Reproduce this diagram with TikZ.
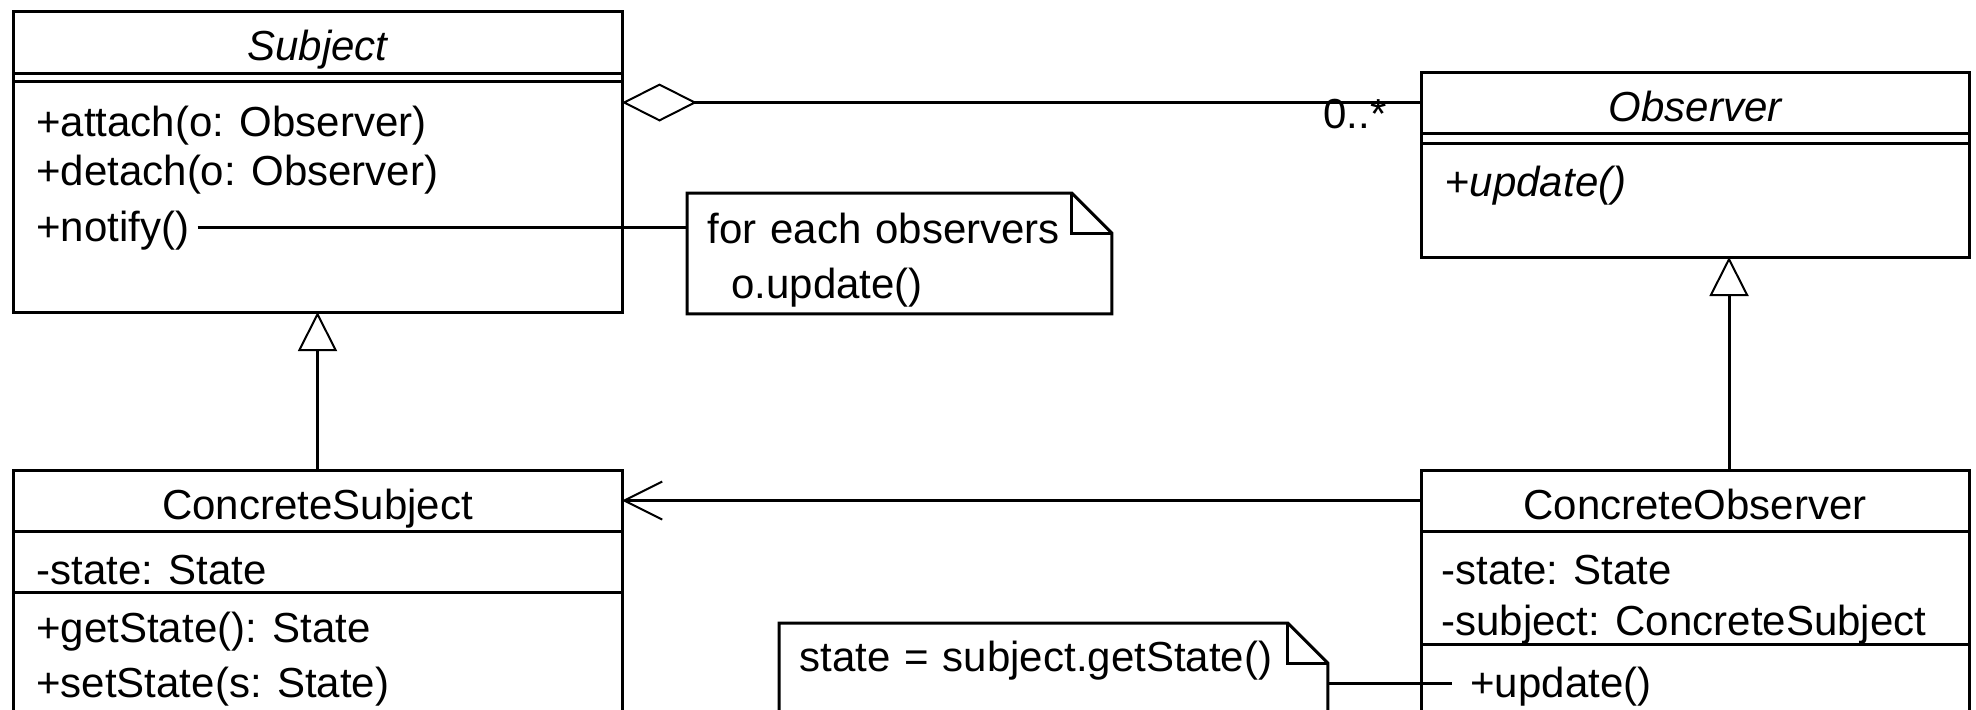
\documentclass[tikz,border=0pt]{standalone}
\usepackage{fontspec}
\setmainfont{Liberation Sans}
\usepackage{tikz}
\usetikzlibrary{positioning, arrows.meta}

% outline of a UML note with its folded corner
\newcommand{\dogear}[1]{%
  \draw[notebd] (#1.south west) -- (#1.north west)
    -- ([xshift=-20pt]#1.north east) -- ([yshift=-20pt]#1.north east)
    -- (#1.south east) -- cycle;
  \draw[notebd] ([xshift=-20pt]#1.north east) |- ([yshift=-20pt]#1.north east);
}

\begin{document}
\begin{tikzpicture}[
  x=0.5pt, y=-0.5pt,
  font=\fontsize{21}{23}\selectfont,
  part/.style={rectangle, draw=black, line width=1.5pt,
               inner sep=0pt, outer sep=0pt},
  head/.style={part, text height=20pt, text depth=1.5pt},
  lcol/.style={minimum width=304.5pt},
  rcol/.style={minimum width=274pt},
  member/.style={anchor=west, inner xsep=4pt, inner ysep=0pt,
                 text height=17.5pt, text depth=3pt},
  notebox/.style={rectangle, inner xsep=10pt, inner ysep=0pt,
                  align=left, anchor=north west},
  notebd/.style={draw=black, line width=1.5pt, line join=miter},
  conn/.style={draw=black, line width=1.5pt},
  inherit/.style={conn, -{Triangle[open, length=19.5pt, width=19.5pt, line width=1pt]}},
  aggr/.style={conn, {Diamond[open, length=37.5pt, width=19pt, line width=1pt]}-},
  navig/.style={conn, -{Straight Barb[length=19pt, width=19pt, line width=1pt]}}
]
\useasboundingbox (0,0) rectangle (1976,709);
\clip (0,0) rectangle (1976,709);

% Abstract classes
\node[head, lcol, minimum height=31pt, anchor=north] (subjHead) at (317.5,11) {\itshape Subject};
\node[part, lcol, minimum height=4pt, below=0pt of subjHead] (subjAttr) {};
\node[part, lcol, minimum height=115.5pt, below=0pt of subjAttr] (subjOps) {};

\node[head, rcol, minimum height=30.5pt, anchor=north] (obsHead) at (1695,72) {\itshape Observer};
\node[part, rcol, minimum height=5pt, below=0pt of obsHead] (obsAttr) {};
\node[part, rcol, minimum height=57pt, below=0pt of obsAttr] (obsOps) {};

% Concrete classes
\node[head, lcol, minimum height=30.5pt, anchor=north] (csHead) at (317.5,470) {ConcreteSubject};
\node[part, lcol, minimum height=30.5pt, below=0pt of csHead] (csAttr) {};
\node[part, lcol, minimum height=90pt, below=0pt of csAttr] (csOps) {};

\node[head, rcol, minimum height=30.5pt, anchor=north] (coHead) at (1695,470) {ConcreteObserver};
\node[part, rcol, minimum height=56.5pt, below=0pt of coHead] (coAttr) {};
\node[part, rcol, minimum height=60pt, below=0pt of coAttr] (coOps) {};

% Members
\node[member] (attachOp) at (28,122) {+attach(o: Observer)};
\node[member] (detachOp) at (28,171) {+detach(o: Observer)};
\node[member] (notifyOp) at (28,227) {+notify()};
\node[member] (updateAbs) at (1437,182) {+\textit{update()}};
\node[member] (csState) at (28,570) {-state: State};
\node[member] (getOp) at (28,628) {+getState(): State};
\node[member] (setOp) at (28,683) {+setState(s: State)};
\node[member] (coState) at (1433,570) {-state: State};
\node[member] (coSubj) at (1433,621) {-subject: ConcreteSubject};
\node[member, inner xsep=9pt] (updateOp) at (1452,683) {+update()};

% Multiplicity
\node[anchor=base east, inner sep=0pt] (mult) at (1387,128) {0..*};

% Notes
\node[notebox, text width=192pt, text height=25pt, text depth=35pt] (note1) at (687,193)
    {for each observers\\[4.5pt]\hspace*{12pt}o.update()};
\node[notebox, text width=254pt, text height=24pt, text depth=53pt] (note2) at (779,623)
    {state = subject.getState()};
\dogear{note1}
\dogear{note2}

% Relations
\draw[inherit] (csHead.north) -- (subjOps.south);
\draw[inherit] ([xshift=17pt]coHead.north) -- ([xshift=17pt]obsOps.south);
\draw[aggr] (subjOps.east |- obsHead.west) -- (obsHead.west);
\draw[navig] (coHead.west) -- (csHead.east);
\draw[conn] (notifyOp.east) -- (notifyOp.east -| note1.west);
\draw[conn] (note2.east |- updateOp.west) -- (updateOp.west);

\end{tikzpicture}
\end{document}
